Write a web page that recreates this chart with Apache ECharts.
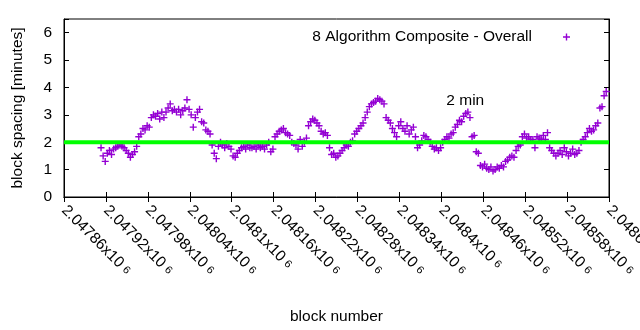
<!DOCTYPE html>
<html>
<head>
<meta charset="utf-8">
<script src="https://cdn.jsdelivr.net/npm/echarts@6/dist/echarts.min.js"></script>
<style>html,body{margin:0;padding:0;background:#fff;}#c{width:640px;height:330px;}</style>
</head>
<body>
<div id="c"></div>
<script>
// ---- data ----
var seriesName = '8 Algorithm Composite - Overall';
var firstBlock = 2047913;   // first plotted block
var blockStep = 3;          // spacing between plotted blocks
var spacingMinutes = [
  1.8, 1.5, 1.3, 1.6,
  1.7, 1.55, 1.75,
  1.8, 1.85, 1.9, 1.85, 1.8, 1.7,
  1.6, 1.45, 1.55, 1.65,
  1.85, 2.2, 2.3,
  2.5, 2.45, 2.6, 2.55,
  2.9, 3.0, 2.95, 3.05,
  2.85, 3.1, 2.9,
  3.1, 3.25, 3.4, 3.15, 3.2,
  3.1, 3.2, 3.0, 3.15, 3.25, 3.55,
  3.2, 3.0, 2.55, 2.9, 3.1, 3.2, 2.75, 2.7,
  2.45, 2.4, 2.3,
  1.9, 1.6, 1.4,
  1.85, 2.0, 1.9, 1.8, 1.95, 1.85, 1.75,
  1.5, 1.45, 1.6,
  1.7, 1.8, 1.85, 1.75, 1.9, 1.8,
  1.8, 1.85, 1.75, 1.9, 1.8, 1.85, 1.75,
  1.9, 2.0, 1.65, 1.75,
  2.2, 2.3, 2.4, 2.45, 2.5, 2.35, 2.3, 2.25,
  2.0, 1.95, 1.9, 1.75, 2.1, 1.85, 2.0, 2.15,
  2.6, 2.75, 2.85, 2.8, 2.7, 2.6,
  2.4, 2.3, 2.35, 2.25,
  1.8, 1.55, 1.6, 1.45, 1.5, 1.6,
  1.7, 1.8, 1.9, 1.85, 2.0, 2.05,
  2.3, 2.4, 2.5, 2.6, 2.7,
  2.9, 3.1, 3.3, 3.4,
  3.45, 3.5, 3.6, 3.55, 3.5, 3.4,
  2.9, 2.8, 2.7,
  2.5, 2.35, 2.2,
  2.6, 2.75, 2.5, 2.4, 2.6, 2.3, 2.45, 2.55,
  2.2, 1.8, 1.9, 2.05,
  2.25, 2.2, 2.1, 2.0,
  1.85, 1.75, 1.8, 1.7, 1.8,
  2.0, 2.1, 2.2, 2.15, 2.3, 2.35,
  2.55, 2.65, 2.8, 2.75,
  2.95, 3.05, 3.1, 2.9,
  2.2, 2.25,
  1.65, 1.6,
  1.15, 1.1, 1.2, 1.05, 1.0, 1.1,
  0.95, 1.0, 1.1, 1.05, 1.15, 1.1,
  1.3, 1.35, 1.45, 1.5, 1.45,
  1.7, 1.85, 1.9,
  2.2, 2.3, 2.15, 2.2, 2.1,
  2.1, 1.8, 2.2, 2.15, 2.1, 2.25, 2.1, 2.35,
  1.8, 1.7, 1.6, 1.5,
  1.6, 1.7, 1.55, 1.8, 1.65, 1.5, 1.6, 1.75, 1.55, 1.6, 1.7,
  2.0, 2.1, 2.2,
  2.35, 2.5, 2.4, 2.45, 2.6,
  2.7, 3.25, 3.3, 3.7, 3.85
];
var targetMinutes = 2;
var targetLabel = '2 min';
var targetLabelAt = [2048400, 3.5];
var xMin = 2047860, xMax = 2048640, xTick = 60;
var yMin = 0, yMax = 6.5, yTick = 1;
var xName = 'block number';
var yName = 'block spacing [minutes]';

// ---- chart ----
var points = spacingMinutes.map(function (v, i) { return [firstBlock + i * blockStep, v]; });
var plusPath = 'path://M2.8,0h1.4v7h-1.4zM0,2.8h7v1.4h-7z';
var FONT = 'Liberation Sans';
var FS = 15.5;

function xLabel(v) {
  var s = (v / 1e6).toFixed(5).replace(/0+$/, '').replace(/\.$/, '');
  return '{m|' + s + 'x10}{e|6}';
}

var chart = echarts.init(document.getElementById('c'), null, {renderer: 'canvas'});
chart.setOption({
  animation: false,
  textStyle: {fontFamily: FONT, color: '#000'},
  grid: {left: 64, right: 31, top: 19, bottom: 133, containLabel: false, outerBoundsMode: 'none',
         show: true, borderColor: '#000', borderWidth: 1, backgroundColor: 'transparent'},
  legend: {
    data: [seriesName],
    right: 65, top: 24,
    align: 'right',
    itemWidth: 7, itemHeight: 7,
    icon: plusPath,
    textStyle: {fontFamily: FONT, fontSize: FS, color: '#000', padding: [0, 26, 0, 0]}
  },
  xAxis: [{
    type: 'value', min: xMin, max: xMax, interval: xTick,
    name: xName, nameLocation: 'middle', nameGap: 112,
    nameTextStyle: {fontFamily: FONT, fontSize: FS, color: '#000'},
    axisLine: {show: true, lineStyle: {color: '#000', width: 1}},
    axisTick: {show: true, inside: true, length: 5, lineStyle: {color: '#000'}},
    splitLine: {show: false},
    axisLabel: {
      rotate: -45, margin: 11, color: '#000', fontFamily: FONT, fontSize: FS,
      showMinLabel: true, showMaxLabel: true, hideOverlap: false,
      formatter: xLabel,
      rich: {m: {fontFamily: FONT, fontSize: FS, color: '#000'}, e: {fontFamily: FONT, fontSize: 11, color: '#000', padding: [0, 0, 0, 4]}}
    }
  }, {
    type: 'value', position: 'top', min: xMin, max: xMax, interval: xTick,
    axisLine: {show: true, lineStyle: {color: '#000'}},
    axisTick: {show: true, inside: true, length: 5, lineStyle: {color: '#000'}},
    axisLabel: {show: false}, splitLine: {show: false}
  }],
  yAxis: [{
    type: 'value', min: yMin, max: yMax, interval: yTick,
    name: yName, nameLocation: 'middle', nameGap: 38,
    nameTextStyle: {fontFamily: FONT, fontSize: FS, color: '#000'},
    axisLine: {show: true, lineStyle: {color: '#000'}},
    axisTick: {show: true, inside: true, length: 5, lineStyle: {color: '#000'}},
    splitLine: {show: false},
    axisLabel: {
      margin: 12, color: '#000', fontFamily: FONT, fontSize: FS,
      formatter: function (v) { return Math.abs(v - Math.round(v)) < 1e-9 ? String(Math.round(v)) : ''; }
    }
  }, {
    type: 'value', position: 'right', min: yMin, max: yMax, interval: yTick,
    axisLine: {show: true, lineStyle: {color: '#000'}},
    axisTick: {show: true, inside: true, length: 5, lineStyle: {color: '#000'}},
    axisLabel: {show: false}, splitLine: {show: false}
  }],
  series: [{
    name: seriesName,
    type: 'scatter',
    data: points,
    symbol: plusPath,
    symbolSize: 7,
    itemStyle: {color: '#9400d3', opacity: 1},
    z: 2
  }, {
    name: 'target',
    type: 'line',
    data: [[xMin, targetMinutes], [xMax, targetMinutes]],
    symbol: 'none',
    lineStyle: {color: '#00ff00', width: 4},
    z: 3
  }, {
    name: 'note',
    type: 'scatter',
    data: [targetLabelAt],
    symbolSize: 0,
    itemStyle: {color: '#000', opacity: 1},
    label: {show: true, position: 'right', distance: 5, formatter: targetLabel, fontFamily: FONT, fontSize: FS,
            color: '#000', opacity: 1, textBorderWidth: 0},
    z: 4
  }]
});
</script>
</body>
</html>
